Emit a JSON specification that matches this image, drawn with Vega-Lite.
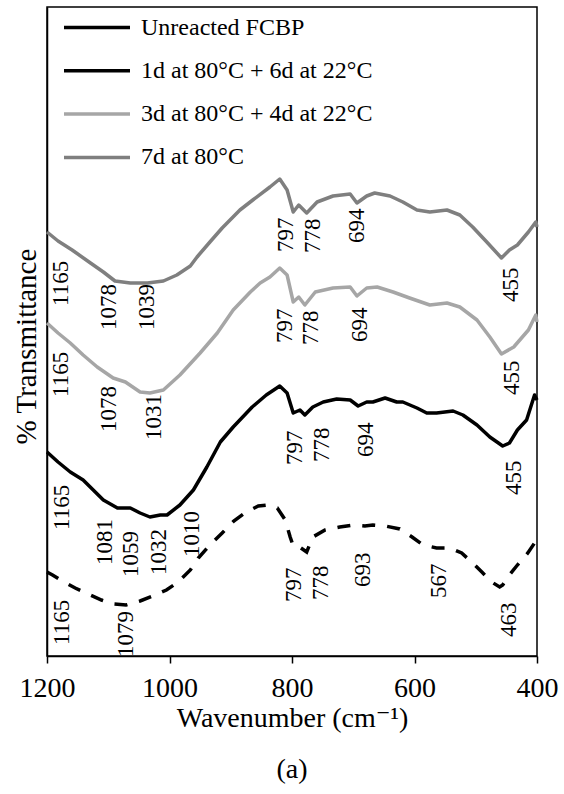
{
  "$schema": "https://vega.github.io/schema/vega-lite/v6.json",
  "width": 490,
  "height": 649,
  "autosize": {"type": "none"},
  "padding": {"left": 47, "top": 7, "right": 27, "bottom": 138},
  "background": "white",
  "config": {
    "font": "Times New Roman, Liberation Serif, DejaVu Serif, serif",
    "view": {"stroke": "black", "strokeWidth": 1.5},
    "axis": {
      "labelFont": "Times New Roman, Liberation Serif, DejaVu Serif, serif",
      "titleFont": "Times New Roman, Liberation Serif, DejaVu Serif, serif",
      "labelColor": "black",
      "titleColor": "black",
      "titleFontWeight": "normal",
      "grid": false,
      "domainColor": "black",
      "domainWidth": 1.5,
      "tickColor": "black",
      "tickWidth": 1.5
    }
  },
  "title": {
    "text": "(a)",
    "orient": "bottom",
    "anchor": "middle",
    "fontSize": 28,
    "font": "Times New Roman, Liberation Serif, DejaVu Serif, serif",
    "fontWeight": "normal",
    "color": "black",
    "offset": 24
  },
  "datasets": {
    "spectra": [
      {"s": "Unreacted FCBP", "wn": 1200, "t": 84},
      {"s": "Unreacted FCBP", "wn": 1191, "t": 81},
      {"s": "Unreacted FCBP", "wn": 1175, "t": 75},
      {"s": "Unreacted FCBP", "wn": 1154, "t": 68},
      {"s": "Unreacted FCBP", "wn": 1133, "t": 62},
      {"s": "Unreacted FCBP", "wn": 1111, "t": 56},
      {"s": "Unreacted FCBP", "wn": 1092, "t": 52},
      {"s": "Unreacted FCBP", "wn": 1071, "t": 51},
      {"s": "Unreacted FCBP", "wn": 1048, "t": 55},
      {"s": "Unreacted FCBP", "wn": 1027, "t": 60},
      {"s": "Unreacted FCBP", "wn": 1005, "t": 66},
      {"s": "Unreacted FCBP", "wn": 986, "t": 74},
      {"s": "Unreacted FCBP", "wn": 966, "t": 86},
      {"s": "Unreacted FCBP", "wn": 953, "t": 98},
      {"s": "Unreacted FCBP", "wn": 934, "t": 111},
      {"s": "Unreacted FCBP", "wn": 914, "t": 123},
      {"s": "Unreacted FCBP", "wn": 895, "t": 135},
      {"s": "Unreacted FCBP", "wn": 875, "t": 144},
      {"s": "Unreacted FCBP", "wn": 855, "t": 150},
      {"s": "Unreacted FCBP", "wn": 841, "t": 151},
      {"s": "Unreacted FCBP", "wn": 824, "t": 148},
      {"s": "Unreacted FCBP", "wn": 811, "t": 136},
      {"s": "Unreacted FCBP", "wn": 803, "t": 119},
      {"s": "Unreacted FCBP", "wn": 798, "t": 110},
      {"s": "Unreacted FCBP", "wn": 790, "t": 110},
      {"s": "Unreacted FCBP", "wn": 776, "t": 104},
      {"s": "Unreacted FCBP", "wn": 766, "t": 119},
      {"s": "Unreacted FCBP", "wn": 746, "t": 126},
      {"s": "Unreacted FCBP", "wn": 722, "t": 129},
      {"s": "Unreacted FCBP", "wn": 700, "t": 131},
      {"s": "Unreacted FCBP", "wn": 681, "t": 130},
      {"s": "Unreacted FCBP", "wn": 668, "t": 131},
      {"s": "Unreacted FCBP", "wn": 648, "t": 130},
      {"s": "Unreacted FCBP", "wn": 624, "t": 127},
      {"s": "Unreacted FCBP", "wn": 604, "t": 119},
      {"s": "Unreacted FCBP", "wn": 586, "t": 111},
      {"s": "Unreacted FCBP", "wn": 564, "t": 108},
      {"s": "Unreacted FCBP", "wn": 542, "t": 108},
      {"s": "Unreacted FCBP", "wn": 523, "t": 103},
      {"s": "Unreacted FCBP", "wn": 505, "t": 93},
      {"s": "Unreacted FCBP", "wn": 490, "t": 84},
      {"s": "Unreacted FCBP", "wn": 474, "t": 74},
      {"s": "Unreacted FCBP", "wn": 461, "t": 69},
      {"s": "Unreacted FCBP", "wn": 456, "t": 71},
      {"s": "Unreacted FCBP", "wn": 445, "t": 81},
      {"s": "Unreacted FCBP", "wn": 432, "t": 91},
      {"s": "Unreacted FCBP", "wn": 415, "t": 103},
      {"s": "Unreacted FCBP", "wn": 404, "t": 113},
      {"s": "Unreacted FCBP", "wn": 400, "t": 116},

      {"s": "1d at 80°C + 6d at 22°C", "wn": 1200, "t": 204},
      {"s": "1d at 80°C + 6d at 22°C", "wn": 1182, "t": 194},
      {"s": "1d at 80°C + 6d at 22°C", "wn": 1162, "t": 184},
      {"s": "1d at 80°C + 6d at 22°C", "wn": 1141, "t": 176},
      {"s": "1d at 80°C + 6d at 22°C", "wn": 1108, "t": 156},
      {"s": "1d at 80°C + 6d at 22°C", "wn": 1085, "t": 148},
      {"s": "1d at 80°C + 6d at 22°C", "wn": 1064, "t": 148},
      {"s": "1d at 80°C + 6d at 22°C", "wn": 1048, "t": 143},
      {"s": "1d at 80°C + 6d at 22°C", "wn": 1032, "t": 139},
      {"s": "1d at 80°C + 6d at 22°C", "wn": 1015, "t": 141},
      {"s": "1d at 80°C + 6d at 22°C", "wn": 1004, "t": 141},
      {"s": "1d at 80°C + 6d at 22°C", "wn": 983, "t": 151},
      {"s": "1d at 80°C + 6d at 22°C", "wn": 961, "t": 166},
      {"s": "1d at 80°C + 6d at 22°C", "wn": 939, "t": 189},
      {"s": "1d at 80°C + 6d at 22°C", "wn": 917, "t": 214},
      {"s": "1d at 80°C + 6d at 22°C", "wn": 896, "t": 229},
      {"s": "1d at 80°C + 6d at 22°C", "wn": 865, "t": 249},
      {"s": "1d at 80°C + 6d at 22°C", "wn": 842, "t": 261},
      {"s": "1d at 80°C + 6d at 22°C", "wn": 820, "t": 270},
      {"s": "1d at 80°C + 6d at 22°C", "wn": 808, "t": 263},
      {"s": "1d at 80°C + 6d at 22°C", "wn": 798, "t": 243},
      {"s": "1d at 80°C + 6d at 22°C", "wn": 787, "t": 246},
      {"s": "1d at 80°C + 6d at 22°C", "wn": 779, "t": 241},
      {"s": "1d at 80°C + 6d at 22°C", "wn": 766, "t": 249},
      {"s": "1d at 80°C + 6d at 22°C", "wn": 749, "t": 254},
      {"s": "1d at 80°C + 6d at 22°C", "wn": 727, "t": 257},
      {"s": "1d at 80°C + 6d at 22°C", "wn": 705, "t": 256},
      {"s": "1d at 80°C + 6d at 22°C", "wn": 692, "t": 250},
      {"s": "1d at 80°C + 6d at 22°C", "wn": 678, "t": 254},
      {"s": "1d at 80°C + 6d at 22°C", "wn": 668, "t": 254},
      {"s": "1d at 80°C + 6d at 22°C", "wn": 648, "t": 258},
      {"s": "1d at 80°C + 6d at 22°C", "wn": 629, "t": 254},
      {"s": "1d at 80°C + 6d at 22°C", "wn": 619, "t": 254},
      {"s": "1d at 80°C + 6d at 22°C", "wn": 596, "t": 248},
      {"s": "1d at 80°C + 6d at 22°C", "wn": 580, "t": 243},
      {"s": "1d at 80°C + 6d at 22°C", "wn": 564, "t": 243},
      {"s": "1d at 80°C + 6d at 22°C", "wn": 537, "t": 245},
      {"s": "1d at 80°C + 6d at 22°C", "wn": 521, "t": 241},
      {"s": "1d at 80°C + 6d at 22°C", "wn": 498, "t": 231},
      {"s": "1d at 80°C + 6d at 22°C", "wn": 477, "t": 219},
      {"s": "1d at 80°C + 6d at 22°C", "wn": 456, "t": 210},
      {"s": "1d at 80°C + 6d at 22°C", "wn": 445, "t": 213},
      {"s": "1d at 80°C + 6d at 22°C", "wn": 432, "t": 226},
      {"s": "1d at 80°C + 6d at 22°C", "wn": 417, "t": 236},
      {"s": "1d at 80°C + 6d at 22°C", "wn": 404, "t": 261},
      {"s": "1d at 80°C + 6d at 22°C", "wn": 400, "t": 256},

      {"s": "3d at 80°C + 4d at 22°C", "wn": 1200, "t": 333},
      {"s": "3d at 80°C + 4d at 22°C", "wn": 1182, "t": 323},
      {"s": "3d at 80°C + 4d at 22°C", "wn": 1162, "t": 313},
      {"s": "3d at 80°C + 4d at 22°C", "wn": 1141, "t": 301},
      {"s": "3d at 80°C + 4d at 22°C", "wn": 1118, "t": 289},
      {"s": "3d at 80°C + 4d at 22°C", "wn": 1092, "t": 278},
      {"s": "3d at 80°C + 4d at 22°C", "wn": 1072, "t": 274},
      {"s": "3d at 80°C + 4d at 22°C", "wn": 1048, "t": 264},
      {"s": "3d at 80°C + 4d at 22°C", "wn": 1032, "t": 263},
      {"s": "3d at 80°C + 4d at 22°C", "wn": 1010, "t": 266},
      {"s": "3d at 80°C + 4d at 22°C", "wn": 983, "t": 281},
      {"s": "3d at 80°C + 4d at 22°C", "wn": 950, "t": 303},
      {"s": "3d at 80°C + 4d at 22°C", "wn": 922, "t": 323},
      {"s": "3d at 80°C + 4d at 22°C", "wn": 896, "t": 346},
      {"s": "3d at 80°C + 4d at 22°C", "wn": 868, "t": 364},
      {"s": "3d at 80°C + 4d at 22°C", "wn": 852, "t": 373},
      {"s": "3d at 80°C + 4d at 22°C", "wn": 836, "t": 379},
      {"s": "3d at 80°C + 4d at 22°C", "wn": 820, "t": 388},
      {"s": "3d at 80°C + 4d at 22°C", "wn": 808, "t": 381},
      {"s": "3d at 80°C + 4d at 22°C", "wn": 798, "t": 354},
      {"s": "3d at 80°C + 4d at 22°C", "wn": 789, "t": 359},
      {"s": "3d at 80°C + 4d at 22°C", "wn": 779, "t": 351},
      {"s": "3d at 80°C + 4d at 22°C", "wn": 762, "t": 364},
      {"s": "3d at 80°C + 4d at 22°C", "wn": 733, "t": 368},
      {"s": "3d at 80°C + 4d at 22°C", "wn": 705, "t": 369},
      {"s": "3d at 80°C + 4d at 22°C", "wn": 694, "t": 360},
      {"s": "3d at 80°C + 4d at 22°C", "wn": 678, "t": 368},
      {"s": "3d at 80°C + 4d at 22°C", "wn": 661, "t": 369},
      {"s": "3d at 80°C + 4d at 22°C", "wn": 635, "t": 364},
      {"s": "3d at 80°C + 4d at 22°C", "wn": 608, "t": 358},
      {"s": "3d at 80°C + 4d at 22°C", "wn": 575, "t": 351},
      {"s": "3d at 80°C + 4d at 22°C", "wn": 547, "t": 353},
      {"s": "3d at 80°C + 4d at 22°C", "wn": 526, "t": 349},
      {"s": "3d at 80°C + 4d at 22°C", "wn": 498, "t": 336},
      {"s": "3d at 80°C + 4d at 22°C", "wn": 477, "t": 319},
      {"s": "3d at 80°C + 4d at 22°C", "wn": 458, "t": 302},
      {"s": "3d at 80°C + 4d at 22°C", "wn": 438, "t": 309},
      {"s": "3d at 80°C + 4d at 22°C", "wn": 414, "t": 326},
      {"s": "3d at 80°C + 4d at 22°C", "wn": 402, "t": 341},
      {"s": "3d at 80°C + 4d at 22°C", "wn": 400, "t": 334},

      {"s": "7d at 80°C", "wn": 1200, "t": 424},
      {"s": "7d at 80°C", "wn": 1182, "t": 415},
      {"s": "7d at 80°C", "wn": 1159, "t": 406},
      {"s": "7d at 80°C", "wn": 1129, "t": 393},
      {"s": "7d at 80°C", "wn": 1108, "t": 384},
      {"s": "7d at 80°C", "wn": 1089, "t": 375},
      {"s": "7d at 80°C", "wn": 1064, "t": 373},
      {"s": "7d at 80°C", "wn": 1036, "t": 373},
      {"s": "7d at 80°C", "wn": 1010, "t": 375},
      {"s": "7d at 80°C", "wn": 988, "t": 381},
      {"s": "7d at 80°C", "wn": 966, "t": 390},
      {"s": "7d at 80°C", "wn": 955, "t": 399},
      {"s": "7d at 80°C", "wn": 934, "t": 414},
      {"s": "7d at 80°C", "wn": 914, "t": 428},
      {"s": "7d at 80°C", "wn": 885, "t": 446},
      {"s": "7d at 80°C", "wn": 864, "t": 456},
      {"s": "7d at 80°C", "wn": 836, "t": 469},
      {"s": "7d at 80°C", "wn": 820, "t": 477},
      {"s": "7d at 80°C", "wn": 808, "t": 466},
      {"s": "7d at 80°C", "wn": 798, "t": 444},
      {"s": "7d at 80°C", "wn": 789, "t": 451},
      {"s": "7d at 80°C", "wn": 776, "t": 443},
      {"s": "7d at 80°C", "wn": 759, "t": 454},
      {"s": "7d at 80°C", "wn": 733, "t": 460},
      {"s": "7d at 80°C", "wn": 705, "t": 462},
      {"s": "7d at 80°C", "wn": 694, "t": 453},
      {"s": "7d at 80°C", "wn": 678, "t": 460},
      {"s": "7d at 80°C", "wn": 665, "t": 463},
      {"s": "7d at 80°C", "wn": 640, "t": 460},
      {"s": "7d at 80°C", "wn": 619, "t": 454},
      {"s": "7d at 80°C", "wn": 596, "t": 446},
      {"s": "7d at 80°C", "wn": 575, "t": 444},
      {"s": "7d at 80°C", "wn": 547, "t": 446},
      {"s": "7d at 80°C", "wn": 526, "t": 441},
      {"s": "7d at 80°C", "wn": 505, "t": 429},
      {"s": "7d at 80°C", "wn": 482, "t": 414},
      {"s": "7d at 80°C", "wn": 458, "t": 398},
      {"s": "7d at 80°C", "wn": 445, "t": 406},
      {"s": "7d at 80°C", "wn": 432, "t": 411},
      {"s": "7d at 80°C", "wn": 414, "t": 424},
      {"s": "7d at 80°C", "wn": 402, "t": 434},
      {"s": "7d at 80°C", "wn": 400, "t": 429}
    ],
    "peaks": [
      {"label": "1165", "wn": 1177, "t": 350},
      {"label": "1078", "wn": 1098, "t": 326},
      {"label": "1039", "wn": 1036, "t": 326},
      {"label": "797", "wn": 810, "t": 404},
      {"label": "778", "wn": 766, "t": 403},
      {"label": "694", "wn": 694, "t": 413},
      {"label": "455", "wn": 443, "t": 354},
      {"label": "1165", "wn": 1177, "t": 259},
      {"label": "1078", "wn": 1098, "t": 224},
      {"label": "1031", "wn": 1025, "t": 216},
      {"label": "797", "wn": 811, "t": 313},
      {"label": "778", "wn": 769, "t": 311},
      {"label": "694", "wn": 689, "t": 314},
      {"label": "455", "wn": 441, "t": 261},
      {"label": "1165", "wn": 1175, "t": 126},
      {"label": "1081", "wn": 1105, "t": 91},
      {"label": "1059", "wn": 1063, "t": 79},
      {"label": "1032", "wn": 1017, "t": 81},
      {"label": "1010", "wn": 963, "t": 99},
      {"label": "797", "wn": 795, "t": 191},
      {"label": "778", "wn": 751, "t": 194},
      {"label": "694", "wn": 679, "t": 199},
      {"label": "455", "wn": 438, "t": 161},
      {"label": "1165", "wn": 1175, "t": 11},
      {"label": "1079", "wn": 1071, "t": -1},
      {"label": "797", "wn": 797, "t": 54},
      {"label": "778", "wn": 753, "t": 56},
      {"label": "693", "wn": 684, "t": 69},
      {"label": "567", "wn": 560, "t": 58},
      {"label": "463", "wn": 446, "t": 19}
    ]
  },
  "encoding": {
    "x": {
      "field": "wn",
      "type": "quantitative",
      "scale": {"domain": [400, 1200], "reverse": true, "nice": false, "zero": false},
      "axis": {
        "title": "Wavenumber (cm⁻¹)",
        "values": [1200, 1000, 800, 600, 400],
        "format": "d",
        "labelFontSize": 28,
        "titleFontSize": 28,
        "tickSize": 7,
        "labelPadding": 11,
        "titlePadding": 2,
        "labelFlush": false,
        "labelOverlap": false
      }
    },
    "y": {
      "field": "t",
      "type": "quantitative",
      "scale": {"domain": [0, 649], "nice": false, "zero": false},
      "axis": {
        "title": "% Transmittance",
        "labels": false,
        "ticks": false,
        "titleFontSize": 29,
        "titleX": -12,
        "titleY": 339,
        "titleBaseline": "alphabetic",
        "titleAngle": 270,
        "titleAlign": "center"
      }
    }
  },
  "layer": [
    {
      "data": {"name": "spectra"},
      "transform": [{"filter": "datum.s != 'Unreacted FCBP'"}],
      "mark": {"type": "line", "strokeWidth": 3.5, "strokeCap": "butt", "strokeJoin": "round"},
      "encoding": {
        "color": {
          "field": "s",
          "type": "nominal",
          "scale": {
            "domain": ["Unreacted FCBP", "1d at 80°C + 6d at 22°C", "3d at 80°C + 4d at 22°C", "7d at 80°C"],
            "range": ["#000000", "#000000", "#a6a6a6", "#7f7f7f"]
          },
          "legend": {
            "orient": "none",
            "legendX": 15,
            "legendY": 8.5,
            "title": null,
            "symbolType": "stroke",
            "symbolSize": 4356,
            "symbolStrokeWidth": 3.5,
            "symbolOpacity": 1,
            "symbolDash": [1, 0],
            "clipHeight": 24,
            "rowPadding": 19.3,
            "labelFont": "Times New Roman, Liberation Serif, DejaVu Serif, serif",
            "labelFontSize": 24,
            "labelColor": "black",
            "labelOffset": 9,
            "labelLimit": 0,
            "padding": 0
          }
        }
      }
    },
    {
      "data": {"name": "spectra"},
      "transform": [{"filter": "datum.s == 'Unreacted FCBP'"}],
      "mark": {"type": "line", "strokeWidth": 3.5, "strokeCap": "butt", "strokeDash": [13, 12]},
      "encoding": {
        "color": {"field": "s", "type": "nominal"}
      }
    },
    {
      "data": {"name": "peaks"},
      "mark": {
        "type": "text",
        "angle": 270,
        "align": "left",
        "baseline": "middle",
        "fontSize": 23,
        "font": "Times New Roman, Liberation Serif, DejaVu Serif, serif",
        "color": "black"
      },
      "encoding": {
        "text": {"field": "label", "type": "nominal"}
      }
    }
  ]
}
